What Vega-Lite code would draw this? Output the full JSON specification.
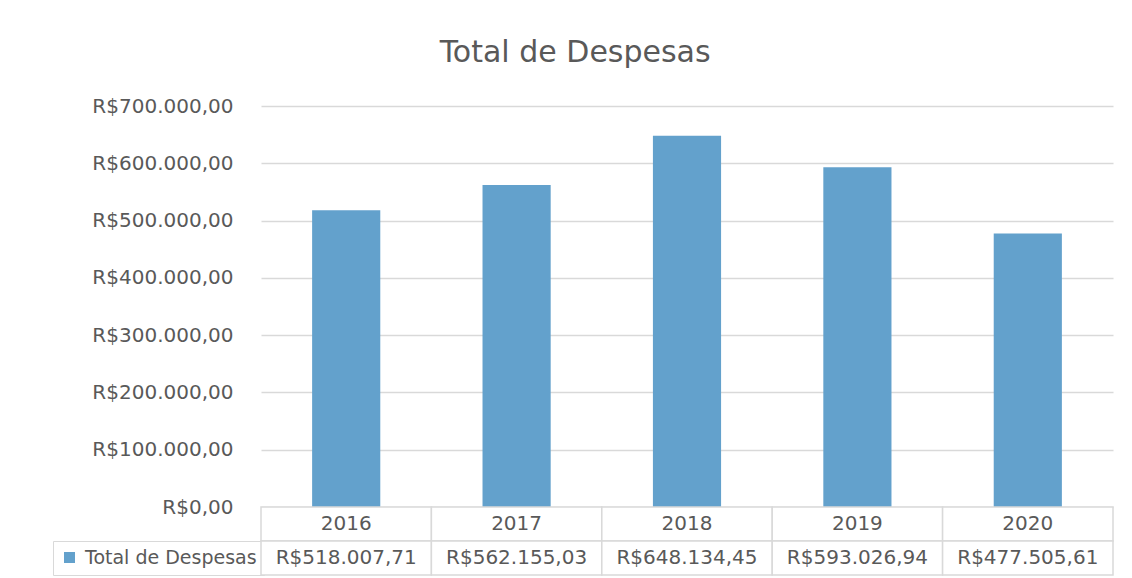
{
  "$schema": "https://vega.github.io/schema/vega-lite/v6.json",
  "padding": {"left": 52, "top": 38, "right": 20, "bottom": 4},
  "autosize": {"type": "pad"},
  "background": "white",
  "title": {"text": "Total de Despesas", "fontSize": 30, "font": "DejaVu Sans", "fontWeight": "normal", "color": "#595959", "anchor": "middle", "offset": 28, "dx": -8},
  "config": {
    "locale": {"number": {"decimal": ",", "thousands": ".", "grouping": [3], "currency": ["R$", ""]}},
    "view": {"stroke": null},
    "font": "DejaVu Sans"
  },
  "data": {"values": [
    {"ano": "2016", "total": 518007.71},
    {"ano": "2017", "total": 562155.03},
    {"ano": "2018", "total": 648134.45},
    {"ano": "2019", "total": 593026.94},
    {"ano": "2020", "total": 477505.61}
  ]},
  "vconcat": [
    {
      "width": 852,
      "height": 401,
      "mark": {"type": "bar", "width": {"band": 0.4}},
      "encoding": {
        "x": {"field": "ano", "type": "nominal", "scale": {"paddingInner": 0, "paddingOuter": 0}, "axis": null},
        "y": {"field": "total", "type": "quantitative", "scale": {"domain": [0, 700000]},
          "axis": {"title": null, "values": [0, 100000, 200000, 300000, 400000, 500000, 600000, 700000], "format": "$,.2f",
            "labelFontSize": 20, "labelColor": "#595959", "labelPadding": 28, "ticks": false, "domain": false,
            "grid": true, "gridColor": "#d9d9d9", "gridWidth": 1.3}},
        "color": {"datum": "Total de Despesas", "type": "nominal", "scale": {"range": ["#63a1cc"]},
          "legend": {"title": null, "orient": "none", "legendX": -208, "legendY": 435, "symbolType": "square", "symbolSize": 121,
            "labelFontSize": 19, "labelColor": "#595959", "labelOffset": 6, "labelLimit": 300, "padding": 7, "strokeColor": "#d9d9d9", "fillColor": "white"}}
      }
    },
    {
      "width": 852,
      "height": 68,
      "encoding": {
        "x": {"field": "ano", "type": "nominal", "scale": {"paddingInner": 0, "paddingOuter": 0}, "axis": null}
      },
      "layer": [
        {"mark": {"type": "rect", "fill": "white", "stroke": "#d9d9d9", "strokeWidth": 1.5},
         "encoding": {"y": {"datum": "ano", "type": "nominal", "scale": {"domain": ["ano", "valor"], "paddingInner": 0, "paddingOuter": 0}, "axis": null}}},
        {"mark": {"type": "rect", "fill": "white", "stroke": "#d9d9d9", "strokeWidth": 1.5},
         "encoding": {"y": {"datum": "valor", "type": "nominal"}}},
        {"mark": {"type": "text", "fontSize": 20, "color": "#595959"},
         "encoding": {"y": {"datum": "ano", "type": "nominal"}, "text": {"field": "ano"}}},
        {"mark": {"type": "text", "fontSize": 20, "color": "#595959"},
         "encoding": {"y": {"datum": "valor", "type": "nominal"}, "text": {"field": "total", "type": "quantitative", "format": "$,.2f"}}}
      ]
    }
  ],
  "spacing": 0,
  "bounds": "flush",
  "resolve": {"scale": {"x": "independent", "y": "independent"}, "legend": {"color": "independent"}}
}
